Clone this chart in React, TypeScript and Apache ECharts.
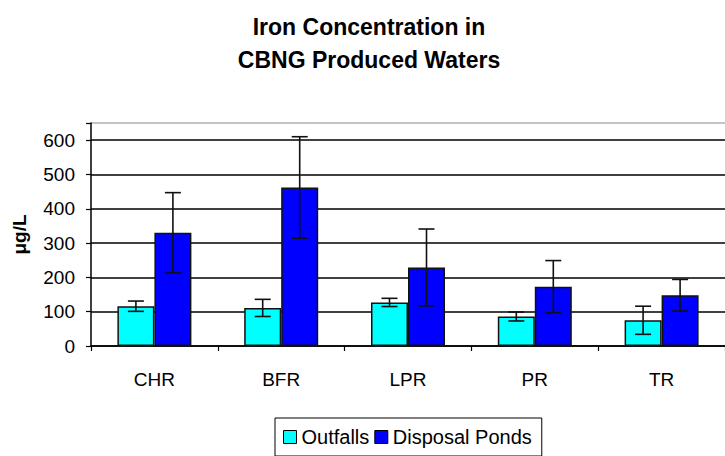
import React, { useEffect, useRef } from "react";
import * as echarts from "echarts";

const categories = ["CHR", "BFR", "LPR", "PR", "TR"];
const outfalls = [116, 111, 127, 86, 75];
const outfallsErr = [15, 25, 12, 13, 41];
const ponds = [330, 462, 229, 173, 148];
const pondsErr = [117, 148, 112, 76, 46];
const yTicks = [0, 100, 200, 300, 400, 500, 600];

const FONT = "'Liberation Sans', Arial, sans-serif";
const BAR_W = 37;

function errorSeries(values: number[], errs: number[], offset: number) {
  return {
    type: "custom",
    silent: true,
    z: 10,
    data: values.map((v, i) => [i, v - errs[i], v + errs[i]]),
    renderItem: (params: any, api: any) => {
      const i = api.value(0);
      const lo = api.coord([i, api.value(1)]);
      const hi = api.coord([i, api.value(2)]);
      const x = lo[0] + offset;
      const cap = 8;
      const style = { stroke: "#111", lineWidth: 1.6 };
      return {
        type: "group",
        children: [
          { type: "line", shape: { x1: x, y1: lo[1], x2: x, y2: hi[1] }, style },
          { type: "line", shape: { x1: x - cap, y1: lo[1], x2: x + cap, y2: lo[1] }, style },
          { type: "line", shape: { x1: x - cap, y1: hi[1], x2: x + cap, y2: hi[1] }, style },
        ],
      };
    },
  };
}

export default function App() {
  const ref = useRef<HTMLDivElement>(null);
  useEffect(() => {
    document.body.style.margin = "0";
    const chart = echarts.init(ref.current!, undefined, { renderer: "svg" });
    chart.setOption({
      animation: false,
      backgroundColor: "#fff",
      textStyle: { fontFamily: FONT },
      title: {
        text: "Iron Concentration in\nCBNG Produced Waters",
        left: 364,
        textAlign: "center",
        top: 5,
        textStyle: { fontFamily: FONT, fontSize: 23, fontWeight: "bold", color: "#000", lineHeight: 33 },
      },
      legend: {
        left: 275,
        top: 418,
        padding: [9, 10, 9, 8],
        borderColor: "#000",
        borderWidth: 1,
        itemWidth: 13,
        itemHeight: 13,
        itemGap: 5,
        icon: "rect",
        textStyle: { fontFamily: FONT, fontSize: 20, color: "#000" },
        data: [
          { name: "Outfalls", itemStyle: { borderColor: "#000", borderWidth: 1 } },
          { name: "Disposal Ponds", itemStyle: { borderColor: "#000", borderWidth: 1 } },
        ],
      },
      grid: { left: 91, top: 123, right: -8, bottom: 110, containLabel: false },
      xAxis: {
        type: "category",
        data: categories,
        axisLine: { lineStyle: { color: "#000", width: 1.5 } },
        axisTick: { show: true, length: 5, lineStyle: { color: "#000", width: 1.2 } },
        axisLabel: { fontFamily: FONT, fontSize: 19, color: "#000", margin: 24 },
      },
      yAxis: {
        type: "value",
        min: 0,
        max: 650,
        interval: 100,
        name: "μg/L",
        nameLocation: "middle",
        nameGap: 62,
        nameRotate: 90,
        nameTextStyle: { fontFamily: FONT, fontSize: 19, fontWeight: "bold", color: "#000" },
        axisLine: { show: true, lineStyle: { color: "#000", width: 1.5 } },
        axisTick: { show: true, length: 5, lineStyle: { color: "#000", width: 1.2 } },
        axisLabel: {
          fontFamily: FONT,
          fontSize: 19,
          color: "#000",
          margin: 16,
          formatter: (v: number) => (yTicks.includes(v) ? String(v) : ""),
        },
        splitLine: {
          show: true,
          lineStyle: {
            color: ["#000", "#000", "#000", "#000", "#000", "#000", "#000", "#b0b0b0"],
            width: 1.5,
          },
        },
      },
      series: [
        {
          name: "Outfalls",
          type: "bar",
          data: outfalls,
          barWidth: BAR_W,
          barGap: "0%",
          itemStyle: { color: "#00ffff", borderColor: "#111", borderWidth: 1.5 },
        },
        {
          name: "Disposal Ponds",
          type: "bar",
          data: ponds,
          barWidth: BAR_W,
          barGap: "0%",
          itemStyle: { color: "#0000ff", borderColor: "#111", borderWidth: 1.5 },
        },
        errorSeries(outfalls, outfallsErr, -BAR_W / 2),
        errorSeries(ponds, pondsErr, BAR_W / 2),
      ],
    });
    return () => chart.dispose();
  }, []);
  return <div ref={ref} style={{ width: 725, height: 456 }} />;
}
